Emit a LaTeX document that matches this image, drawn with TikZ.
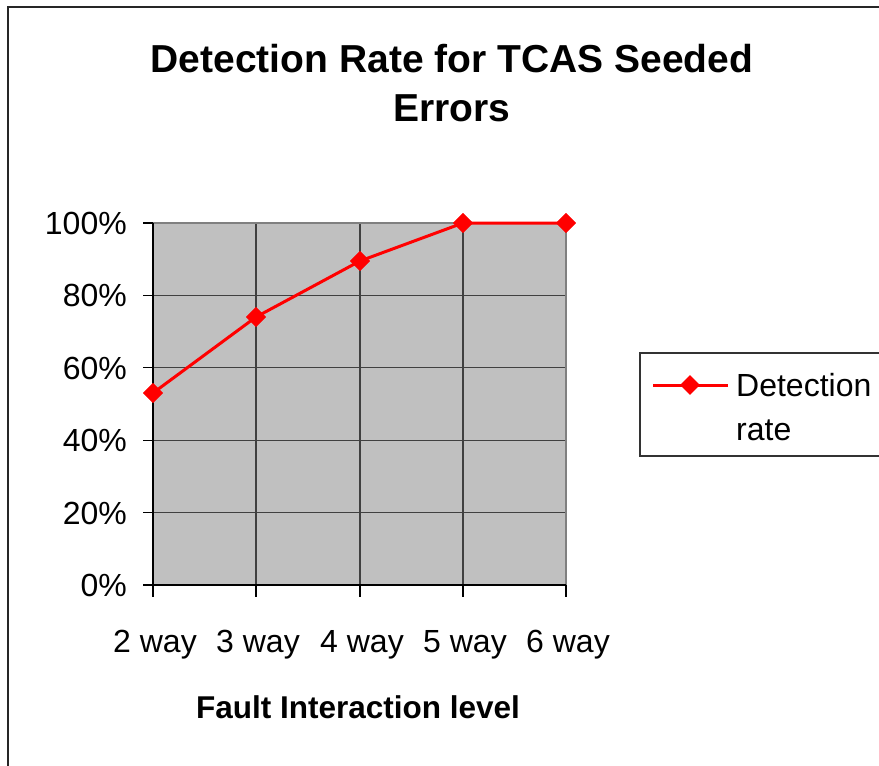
\documentclass[tikz,border=0pt]{standalone}
\usepackage{fontspec}
\setmainfont{Liberation Sans}
\usetikzlibrary{shapes.geometric}
\begin{document}
\begin{tikzpicture}[x=1pt,y=-1pt,
  grid/.style={draw=black!75,line width=1.3pt},
  axisline/.style={draw=black,line width=1.3pt},
  pt/.style={diamond,fill=red,inner sep=0pt,minimum width=20pt,minimum height=20pt},
  series/.style={draw=red,line width=3pt},
  ticklab/.style={font=\fontsize{32}{36}\selectfont,inner sep=0pt},
  titlefont/.style={font=\fontsize{39}{49}\bfseries\selectfont,align=center,inner sep=0pt}
]
\useasboundingbox (0,0) rectangle (879,766);
% chart border
\draw[black!85,line width=1.2pt] (8,790) -- (8,7) -- (900,7);
% title
\node[titlefont] (title) at (452,83) {Detection Rate for TCAS Seeded\\Errors};
% plot area
\fill[fill={rgb,255:red,192;green,192;blue,192}] (153,223) rectangle (566,585);
\foreach \v in {0.2,0.4,0.6,0.8} {\draw[grid] (153,585-\v*362) -- (566,585-\v*362);}
\foreach \x in {256,360,463} {\draw[grid] (\x,223) -- (\x,585);}
\draw[draw=black!50,line width=1.6pt] (153,223) -- (566,223) -- (566,585);
\draw[axisline] (153,223) -- (153,585) -- (566,585);
\foreach \v in {0,0.2,0.4,0.6,0.8,1} {\draw[axisline] (143,585-\v*362) -- (153,585-\v*362);}
\foreach \x in {153,256,360,463,566} {\draw[axisline] (\x,585) -- (\x,597);}
% y labels
\node[ticklab,anchor=east] (y0) at (127,585) {0\%};
\node[ticklab,anchor=east] (y20) at (127,513) {20\%};
\node[ticklab,anchor=east] (y40) at (127,440) {40\%};
\node[ticklab,anchor=east] (y60) at (127,368) {60\%};
\node[ticklab,anchor=east] (y80) at (127,295) {80\%};
\node[ticklab,anchor=east] (y100) at (127,223) {100\%};
% x labels
\node[ticklab,anchor=base] (x2) at (155,652) {2 way};
\node[ticklab,anchor=base] (x3) at (258,652) {3 way};
\node[ticklab,anchor=base] (x4) at (362,652) {4 way};
\node[ticklab,anchor=base] (x5) at (465,652) {5 way};
\node[ticklab,anchor=base] (x6) at (568,652) {6 way};
% axis title
\node[font=\fontsize{31.5}{36}\bfseries\selectfont,anchor=base,inner sep=0pt] (xtitle) at (358,718) {Fault Interaction level};
% data
\node[pt] (p2) at (153,393) {};
\node[pt] (p3) at (256,317) {};
\node[pt] (p4) at (360,261) {};
\node[pt] (p5) at (463,223) {};
\node[pt] (p6) at (566,223) {};
\draw[series] (p2.center) -- (p3.center) -- (p4.center) -- (p5.center) -- (p6.center);
\node[pt] at (p2) {};
\node[pt] at (p3) {};
\node[pt] at (p4) {};
\node[pt] at (p5) {};
\node[pt] at (p6) {};
% legend
\draw[black!80,line width=1.2pt] (900,353) -- (640,353) -- (640,456) -- (900,456);
\coordinate (la) at (653,385);
\coordinate (lb) at (728,385);
\draw[series] (la) -- (lb);
\node[pt] (lp) at (690,385) {};
\node[font=\fontsize{32}{44}\selectfont,align=left,anchor=base west,inner sep=0pt] (legtext) at (736,440) {Detection\\rate};
\end{tikzpicture}
\end{document}
